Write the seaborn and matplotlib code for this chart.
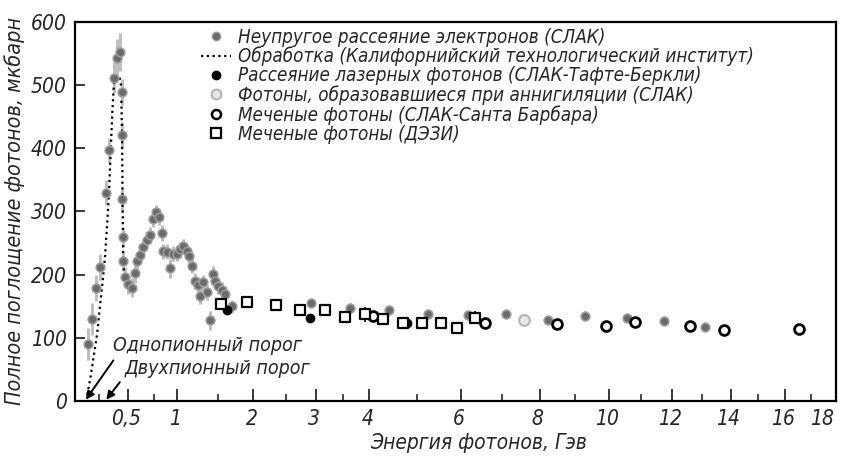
import numpy as np
import pandas as pd
import matplotlib
matplotlib.use("Agg")
import matplotlib.pyplot as plt
import matplotlib.transforms as mtransforms
from matplotlib.lines import Line2D
import seaborn as sns
from matplotlib import font_manager

# Total photoabsorption cross section on the proton, microbarn vs photon energy, GeV

# Inelastic electron scattering (SLAC)
e_elec = [0.166, 0.198, 0.227, 0.259, 0.308, 0.332, 0.375, 0.401, 0.428,
          0.443, 0.443, 0.443, 0.452, 0.457, 0.472, 0.500, 0.534,
          0.566, 0.585, 0.614, 0.647, 0.680,
          0.713, 0.747, 0.776, 0.807, 0.835, 0.852, 0.888,
          0.926, 0.963, 1.001, 1.038, 1.077, 1.117, 1.145, 1.177,
          1.216, 1.256, 1.277, 1.319, 1.361, 1.403,
          1.446, 1.468, 1.511, 1.555, 1.600, 1.692,
          2.91, 3.62, 4.39, 5.24, 6.17, 7.12, 8.22, 9.29, 10.54, 11.74, 13.09]
s_elec = [90, 130, 179, 212, 330, 397, 512, 543, 552,
          489, 421, 319, 259, 221, 197, 185, 179,
          202, 221, 231, 244, 255,
          263, 288, 299, 291, 266, 237, 236,
          210, 233, 233, 240, 245, 237, 229, 214,
          190, 184, 166, 188, 172, 128,
          201, 190, 182, 176, 170, 150,
          155, 147, 144, 138, 136, 138, 128, 135, 131, 126, 117]
err_elec = [25, 25, 20, 20, 20, 20, 25, 30, 30,
            20, 20, 20, 15, 15, 15, 15, 15,
            15, 12, 12, 12, 12,
            12, 12, 12, 12, 12, 12, 12,
            15, 12, 12, 12, 12, 12, 12, 12,
            12, 12, 12, 12, 12, 15,
            12, 12, 12, 12, 12, 10,
            8, 8, 8, 8, 8, 8, 8, 8, 8, 8, 8]

# Caltech analysis curve
e_fit = [0.160, 0.182, 0.209, 0.237, 0.255, 0.279, 0.299, 0.319, 0.333, 0.347,
         0.361, 0.375, 0.398, 0.424, 0.437, 0.446, 0.450, 0.455, 0.463]
s_fit = [10, 34, 70, 108, 144, 187, 228, 287, 334, 397,
         459, 506, 514, 511, 498, 412, 317, 238, 199]

# Laser backscattered photons (SLAC-Tufts-Berkeley)
e_laser = [1.63, 2.90, 4.77]
s_laser = [144, 131, 123]

# Annihilation photons (SLAC)
e_annih = [7.57]
s_annih = [128]

# Tagged photons (SLAC-Santa Barbara)
e_ucsb = [4.07, 6.58, 8.48, 9.91, 10.80, 12.60, 13.78, 16.54]
s_ucsb = [135, 123, 122, 119, 125, 118, 113, 114]

# Tagged photons (DESY)
e_desy = [1.54, 1.90, 2.35, 2.73, 3.17, 3.53, 3.92, 4.28, 4.69, 5.10, 5.52, 5.90, 6.34]
s_desy = [153, 156, 152, 144, 144, 133, 137, 130, 123, 123, 123, 115, 132]
err_desy = [8, 8, 8, 8, 8, 8, 12, 8, 8, 8, 8, 8, 10]

x_major = [0.5, 1, 2, 3, 4, 6, 8, 10, 12, 14, 16, 18]
x_major_labels = ["0,5", "1", "2", "3", "4", "6", "8", "10", "12", "14", "16", "18"]
x_minor = [0.25, 0.75, 1.5, 2.5, 3.5, 5, 7, 9, 11, 13, 15, 17]
y_major = [0, 100, 200, 300, 400, 500, 600]

labels = [
    "Неупругое рассеяние электронов (СЛАК)",
    "Обработка (Калифорнийский технологический институт)",
    "Рассеяние лазерных фотонов (СЛАК-Тафте-Беркли)",
    "Фотоны, образовавшиеся при аннигиляции (СЛАК)",
    "Меченые фотоны (СЛАК-Санта Барбара)",
    "Меченые фотоны (ДЭЗИ)",
]

sns.set_style("ticks")
installed = {f.name for f in font_manager.fontManager.ttflist}
fam = [f for f in ["Liberation Sans Narrow", "DejaVu Sans"] if f in installed]
plt.rcParams["font.family"] = fam
plt.rcParams["font.style"] = "italic"
plt.rcParams["font.stretch"] = "condensed"

# proton mass: the energy axis is linear in the invariant mass W = sqrt(M^2 + 2 M E)
M = 0.938


def fwd(e):
    e = np.asarray(e, dtype=float)
    return np.sqrt(np.clip(M * M + 2 * M * e, 1e-9, None))


def inv(w):
    w = np.asarray(w, dtype=float)
    return (w * w - M * M) / (2 * M)


fig = plt.figure(figsize=(8.46, 4.63), dpi=100)
ax = fig.add_axes([0.0887, 0.134, 0.8995, 0.8186])
ax.set_xscale("function", functions=(fwd, inv))

df_elec = pd.DataFrame({"E": e_elec, "s": s_elec})
df_fit = pd.DataFrame({"E": e_fit, "s": s_fit})

ax.errorbar(e_elec, s_elec, yerr=err_elec, fmt="none", ecolor="#b0b0b0",
            elinewidth=2.2, alpha=0.8, zorder=2)
ax.errorbar(e_desy, s_desy, yerr=err_desy, fmt="none", ecolor="black",
            elinewidth=1.2, zorder=2)

sns.lineplot(data=df_fit, x="E", y="s", ax=ax, color="black", lw=1.6,
             linestyle=(0, (1, 1.6)), sort=False, estimator=None, zorder=3)
sns.scatterplot(data=df_elec, x="E", y="s", ax=ax, s=38, color="#6a6a6a",
                edgecolor="#9a9a9a", linewidth=1.2, zorder=4)
sns.scatterplot(x=e_laser, y=s_laser, ax=ax, s=42, color="black",
                edgecolor="black", zorder=5)
sns.scatterplot(x=e_annih, y=s_annih, ax=ax, s=60, color="#e8e8e8",
                edgecolor="#b5b5b5", linewidth=1.5, zorder=5)
sns.scatterplot(x=e_ucsb, y=s_ucsb, ax=ax, s=50, facecolor="white",
                edgecolor="black", linewidth=2.0, zorder=5)
sns.scatterplot(x=e_desy, y=s_desy, ax=ax, s=48, marker="s", facecolor="white",
                edgecolor="black", linewidth=1.6, zorder=5)

ax.set_xlim(0.073, 18)
ax.set_ylim(0, 600)
ax.set_xticks(x_major)
ax.set_xticklabels(x_major_labels)
ax.set_xticks(x_minor, minor=True)
ax.set_yticks(y_major)
ax.set_yticklabels([str(v) for v in y_major])
ax.tick_params(axis="both", which="major", direction="in", length=9, width=1.3,
               labelsize=15, pad=6)
ax.tick_params(axis="x", which="minor", direction="in", length=5, width=1.2)
ax.tick_params(axis="y", which="major", length=7)
for sp in ax.spines.values():
    sp.set_visible(True)
    sp.set_linewidth(1.6)
    sp.set_color("black")

# tick labels sit slightly left of their ticks
shift = mtransforms.ScaledTranslation(-2 / 100, 0, fig.dpi_scale_trans)
for lab in ax.get_xticklabels():
    lab.set_transform(lab.get_transform() + shift)
ax.get_xticklabels()[-1].set_horizontalalignment("right")

ax.set_xlabel("Энергия фотонов, Гэв", fontsize=15, labelpad=2)
ax.xaxis.set_label_coords(0.53, -0.085)
ax.set_ylabel("Полное поглощение фотонов, мкбарн", fontsize=15.5, labelpad=4)

# threshold annotations
ax.annotate("Однопионный порог", xy=(0.15, 2), xytext=(0.37, 88),
            fontsize=14, ha="left", va="center",
            arrowprops=dict(arrowstyle="-|>", color="black", lw=1.4,
                            relpos=(0.02, 0.0), shrinkA=2, shrinkB=0,
                            mutation_scale=12))
ax.annotate("Двухпионный порог", xy=(0.31, 2), xytext=(0.47, 52),
            fontsize=14, ha="left", va="center",
            arrowprops=dict(arrowstyle="-|>", color="black", lw=1.4,
                            relpos=(0.0, 0.1), shrinkA=2, shrinkB=0,
                            mutation_scale=12))

# legend in the order of the data sets
handles = [
    Line2D([], [], ls="none", marker="o", ms=6, mfc="#6a6a6a", mec="#9a9a9a"),
    Line2D([], [], color="black", lw=1.6, ls=(0, (1, 1.6))),
    Line2D([], [], ls="none", marker="o", ms=6, mfc="black", mec="black"),
    Line2D([], [], ls="none", marker="o", ms=7, mfc="#e8e8e8", mec="#b5b5b5", mew=1.5),
    Line2D([], [], ls="none", marker="o", ms=6.5, mfc="white", mec="black", mew=1.8),
    Line2D([], [], ls="none", marker="s", ms=6.5, mfc="white", mec="black", mew=1.6),
]
ax.legend(handles, labels, loc="upper left", bbox_to_anchor=(0.165, 0.985),
          frameon=False, fontsize=13.5, handlelength=1.6, handletextpad=0.4,
          labelspacing=0.0, borderpad=0, borderaxespad=0)

fig.savefig("out.png", dpi=100)
